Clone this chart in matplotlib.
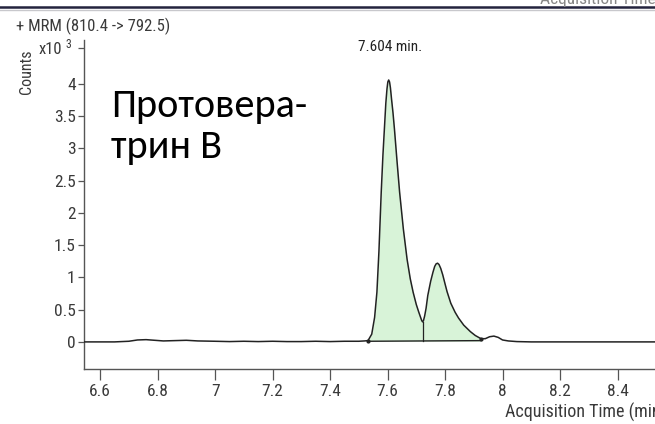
import matplotlib.pyplot as plt
from matplotlib.lines import Line2D

# chromatogram trace, time in min, counts in x10^3
times = [6.54, 6.60, 6.65, 6.70, 6.73, 6.76, 6.79, 6.82, 6.86, 6.90, 6.94,
         7.00, 7.05, 7.10, 7.15, 7.20, 7.25, 7.30, 7.35, 7.40, 7.45, 7.50,
         7.52, 7.532, 7.545, 7.555, 7.563, 7.570, 7.578, 7.584, 7.590, 7.594,
         7.598, 7.601, 7.604, 7.607, 7.610, 7.614, 7.619, 7.624, 7.633, 7.642,
         7.655, 7.668, 7.679, 7.689, 7.700, 7.708, 7.715, 7.719, 7.722, 7.725,
         7.729, 7.734, 7.740, 7.750, 7.758, 7.764, 7.769, 7.774, 7.779, 7.785,
         7.792, 7.800, 7.807, 7.820, 7.835, 7.847, 7.865, 7.888, 7.905, 7.925,
         7.940, 7.955, 7.970, 7.985, 8.00, 8.02, 8.05, 8.10, 8.20, 8.30, 8.40,
         8.50, 8.60, 8.70]
counts = [0.0, 0.0, 0.0, 0.01, 0.03, 0.035, 0.025, 0.015, 0.02, 0.025, 0.015,
          0.01, 0.005, 0.01, 0.005, 0.01, 0.005, 0.005, 0.01, 0.005, 0.01, 0.01,
          0.015, 0.02, 0.12, 0.38, 0.77, 1.40, 2.32, 2.90, 3.38, 3.70,
          3.92, 4.03, 4.06, 4.03, 3.94, 3.76, 3.55, 3.30, 2.80, 2.32,
          1.75, 1.28, 0.98, 0.77, 0.58, 0.47, 0.38, 0.33, 0.31, 0.33,
          0.40, 0.52, 0.72, 0.94, 1.08, 1.17, 1.21, 1.22, 1.20, 1.14,
          1.04, 0.90, 0.78, 0.60, 0.46, 0.37, 0.26, 0.16, 0.10, 0.05,
          0.05, 0.08, 0.09, 0.07, 0.03, 0.015, 0.005, 0.0, 0.0, 0.0, 0.0,
          0.0, 0.0, 0.0]

peak_start = 7.532
peak_end = 7.925
split_time = 7.722
apex_label = "7.604 min."

xticks = [6.6, 6.8, 7.0, 7.2, 7.4, 7.6, 7.8, 8.0, 8.2, 8.4]
yticks = [0, 0.5, 1, 1.5, 2, 2.5, 3, 3.5, 4]

W, H = 655, 424
narrow = ['Roboto Condensed', 'DejaVu Sans']
gray = '#3a3a3a'


def fx(px):
    return px / W


def fy(py):
    return 1 - py / H


fig = plt.figure(figsize=(6.55, 4.24), dpi=100)
ax = fig.add_axes([fx(84), fy(369), (700 - 84) / W, (369 - 40) / H])

ax.plot(times, counts, color='#222222', lw=1.1, zorder=3)

# integrated area, split at the valley
seg_t = [t for t in times if peak_start <= t <= peak_end]
seg_c = [c for t, c in zip(times, counts) if peak_start <= t <= peak_end]
ax.fill_between(seg_t, seg_c, 0.01, color='#d8f3d8', lw=0, zorder=1)
ax.plot([peak_start, peak_end], [0.01, 0.02], color='#222222', lw=1.0, zorder=2)
split_c = counts[times.index(split_time)]
ax.plot([split_time, split_time], [0.01, split_c], color='#222222', lw=0.9, zorder=2)
ax.plot([peak_start, peak_end], [0.02, 0.04], 'o', ms=2, color='#222222', zorder=4)

ax.set_xlim(6.544, 8.687)
ax.set_ylim(-0.42, 4.68)
ax.set_xticks(xticks)
ax.set_xticklabels([f"{t:g}" for t in xticks])
ax.set_yticks(yticks + [4.56])
ax.set_yticklabels([f"{v:g}" for v in yticks] + [""])

for s in ['top', 'right']:
    ax.spines[s].set_visible(False)
for s in ['left', 'bottom']:
    ax.spines[s].set_color('#555555')
    ax.spines[s].set_linewidth(1.0)

ax.tick_params(axis='x', direction='out', length=8, width=0.9, color='#555555',
               labelsize=12.5, labelcolor=gray, pad=3)
ax.tick_params(axis='y', direction='out', length=4, width=0.9, color='#555555',
               labelsize=12.5, labelcolor=gray, pad=2)
for lab in ax.get_xticklabels() + ax.get_yticklabels():
    lab.set_family(narrow)

ax.text(7.61, 4.57, apex_label, ha='center', va='center', fontsize=11,
        color='#222222', family=narrow)

# header and axis captions
fig.text(fx(16), fy(26), "+ MRM (810.4 -> 792.5)", ha='left', va='center',
         fontsize=12, color=gray, family=narrow)
fig.text(fx(27), fy(72), "Counts", rotation=90, ha='center', va='center',
         fontsize=11.5, color=gray, family=narrow)
fig.text(fx(39), fy(49), "x10", ha='left', va='center', fontsize=12,
         color=gray, family=narrow)
fig.text(fx(65), fy(45), "3", ha='left', va='center', fontsize=8.5,
         color=gray, family=narrow)
fig.text(fx(505), fy(412), "Acquisition Time (min)", ha='left', va='center',
         fontsize=13, color=gray, family=narrow)
fig.text(fx(540), fy(-1), "Acquisition Time (min)", ha='left', va='center',
         fontsize=12.5, color='#888888', family=narrow)
fig.add_artist(Line2D([0, 1], [fy(7), fy(7)], transform=fig.transFigure,
                      color='#23233d', lw=1.8))
fig.add_artist(Line2D([0, 1], [fy(9.5), fy(9.5)], transform=fig.transFigure,
                      color='#c8c8cc', lw=1.0))

# compound name
fig.text(fx(111), fy(117), "Протовера-", ha='left', va='baseline',
         fontsize=29, color='black', family=['Carlito', 'DejaVu Sans'])
fig.text(fx(111), fy(158), "трин В", ha='left', va='baseline',
         fontsize=29, color='black', family=['Carlito', 'DejaVu Sans'])

fig.savefig('out.png', dpi=100)
